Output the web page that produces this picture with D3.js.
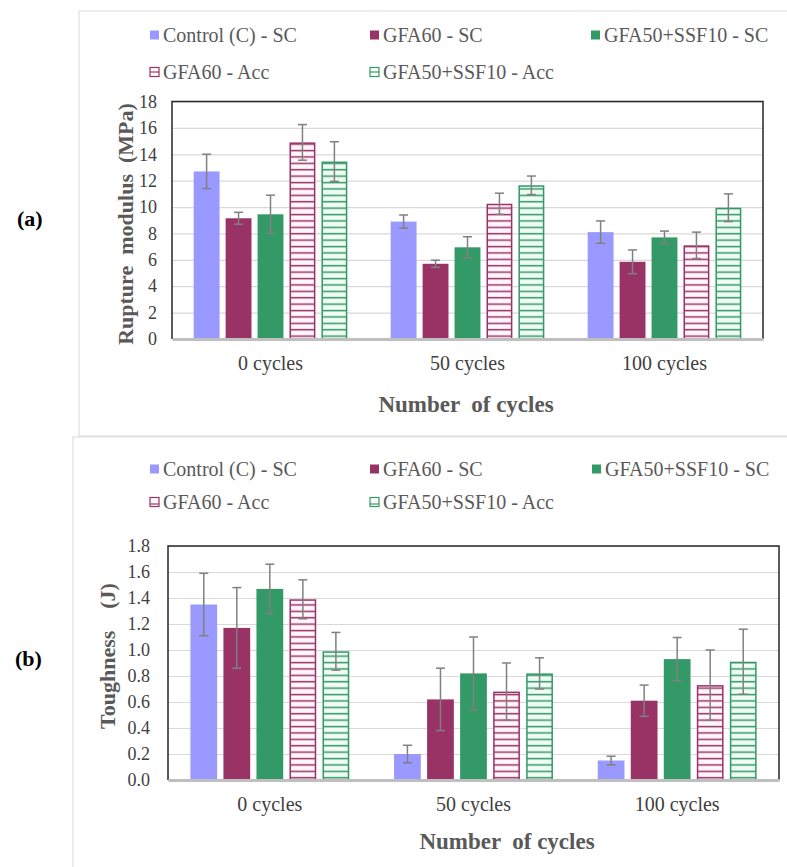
<!DOCTYPE html>
<html>
<head>
<meta charset="utf-8">
<script src="https://cdn.jsdelivr.net/npm/d3@7/dist/d3.min.js"></script>
<style>
  body { margin: 0; background: #fff; }
  svg { display: block; font-family: "Liberation Serif", "Times New Roman", serif; }
</style>
</head>
<body>
<div id="chart"></div>
<script>
'use strict';

const cycles = ['0 cycles', '50 cycles', '100 cycles'];
const seriesNames = ['Control (C) - SC', 'GFA60 - SC', 'GFA50+SSF10 - SC', 'GFA60 - Acc', 'GFA50+SSF10 - Acc'];

// rupture modulus (MPa), one row per cycle group
const ruptureMean = [
  [12.7, 9.15, 9.45, 14.9, 13.45],
  [8.9, 5.7, 6.95, 10.25, 11.65],
  [8.1, 5.85, 7.7, 7.1, 9.95]
];
const ruptureErr = [
  [1.3, 0.45, 1.45, 1.35, 1.5],
  [0.5, 0.27, 0.8, 0.8, 0.7],
  [0.85, 0.9, 0.48, 1.0, 1.05]
];
const ruptureTicks = [0, 2, 4, 6, 8, 10, 12, 14, 16, 18];

// toughness (J)
const toughMean = [
  [1.35, 1.17, 1.47, 1.39, 0.99],
  [0.2, 0.62, 0.82, 0.68, 0.82],
  [0.15, 0.61, 0.93, 0.73, 0.91]
];
const toughErr = [
  [0.24, 0.31, 0.19, 0.15, 0.145],
  [0.067, 0.24, 0.28, 0.22, 0.12],
  [0.033, 0.12, 0.166, 0.27, 0.25]
];
const toughTicks = [0, 0.2, 0.4, 0.6, 0.8, 1.0, 1.2, 1.4, 1.6, 1.8];

const W = 787, H = 867;
const BLUE = '#9999ff', MAROON = '#993366', GREEN = '#339966';
const seriesStyle = [
  {color: BLUE, hatch: false},
  {color: MAROON, hatch: false},
  {color: GREEN, hatch: false},
  {color: MAROON, hatch: true, tint: '#fff5fa'},
  {color: GREEN, hatch: true, tint: '#f0fbf4'}
];

const svg = d3.select('#chart').append('svg')
  .attr('width', W).attr('height', H);

const defs = svg.append('defs');
[3, 4].forEach(i => {
  const s = seriesStyle[i];
  const p = defs.append('pattern')
    .attr('id', 'hatch' + i)
    .attr('patternUnits', 'userSpaceOnUse')
    .attr('width', 8).attr('height', 6.4);
  p.append('rect').attr('width', 8).attr('height', 6.4).style('fill', s.tint);
  p.append('rect').attr('x', 0).attr('y', 2.6).attr('width', 8).attr('height', 1.5)
    .style('fill', s.color);
});

const fillOf = i => seriesStyle[i].hatch ? `url(#hatch${i})` : seriesStyle[i].color;

const drawPanel = function(cfg) {
  const g = svg.append('g');

  // outer frame
  g.append('rect')
    .attr('x', cfg.frame[0]).attr('y', cfg.frame[1])
    .attr('width', cfg.frame[2]).attr('height', cfg.frame[3])
    .style('fill', 'none').style('stroke', '#d9d9d9').style('stroke-width', 1);

  // panel letter
  g.append('text')
    .attr('x', cfg.letterX).attr('y', cfg.letterY)
    .attr('dy', '0.35em')
    .style('font-size', '22px').style('font-weight', 'bold').style('fill', '#000')
    .text(cfg.letter);

  // legend
  const leg = g.append('g');
  seriesNames.forEach((name, i) => {
    const col = i < 3 ? i : i - 3;
    const row = i < 3 ? 0 : 1;
    const lx = cfg.legendX[col], ly = cfg.legendY[row];
    const s = seriesStyle[i];
    if (s.hatch) {
      leg.append('rect').attr('x', lx).attr('y', ly - 4.5).attr('width', 9).attr('height', 9)
        .style('fill', '#fff').style('stroke', s.color).style('stroke-width', 1.2);
      leg.append('line').attr('x1', lx).attr('x2', lx + 9).attr('y1', ly + cfg.legLine).attr('y2', ly + cfg.legLine)
        .style('stroke', s.color).style('stroke-width', 1.2);
    } else {
      leg.append('rect').attr('x', lx).attr('y', ly - 4.5).attr('width', 9).attr('height', 9)
        .style('fill', s.color);
    }
    leg.append('text')
      .attr('x', lx + 13).attr('y', ly).attr('dy', '0.35em')
      .style('font-size', '20px').style('fill', '#595959')
      .text(name);
  });

  const [x0, x1] = cfg.xRange;
  const [yb, yt] = cfg.yRange;
  const x = d3.scaleBand().domain(cycles).range([x0, x1])
    .paddingInner(0.22).paddingOuter(0.11);
  const xs = d3.scaleBand().domain(d3.range(seriesNames.length))
    .range([0, x.bandwidth()]).paddingInner(0.19).paddingOuter(0);
  const y = d3.scaleLinear().domain(cfg.domain).range([yb, yt]);

  // gridlines + tick labels
  const yAxis = g.append('g')
    .attr('transform', `translate(${x0},0)`)
    .call(d3.axisLeft(y).tickValues(cfg.ticks).tickFormat(cfg.fmt)
      .tickSizeInner(-(x1 - x0)).tickSizeOuter(0).tickPadding(cfg.tickPad));
  yAxis.select('.domain').remove();
  yAxis.selectAll('.tick line').style('stroke', '#d9d9d9').style('stroke-width', 1.2);
  yAxis.selectAll('.tick text')
    .style('font-family', '"Liberation Serif", serif')
    .style('font-size', '18px').style('fill', '#404040');

  // bars
  cycles.forEach((c, gi) => {
    const grp = g.append('g').attr('transform', `translate(${x(c)},0)`);
    cfg.mean[gi].forEach((v, si) => {
      const s = seriesStyle[si];
      const bx = xs(si), bw = xs.bandwidth();
      grp.append('rect')
        .attr('x', s.hatch ? bx + 0.75 : bx).attr('y', y(v) + (s.hatch ? 0.75 : 0))
        .attr('width', s.hatch ? bw - 1.5 : bw)
        .attr('height', yb - y(v) - (s.hatch ? 0.75 : 0))
        .style('fill', fillOf(si))
        .style('stroke', s.hatch ? s.color : 'none')
        .style('stroke-width', 1.5);
    });
    // error bars
    cfg.mean[gi].forEach((v, si) => {
      const e = cfg.err[gi][si];
      const cx = xs(si) + xs.bandwidth() / 2;
      const eb = grp.append('g').style('stroke', '#808080').style('stroke-width', 1.5);
      eb.append('line').attr('x1', cx).attr('x2', cx).attr('y1', y(v + e)).attr('y2', y(v - e));
      eb.append('line').attr('x1', cx - 4.5).attr('x2', cx + 4.5).attr('y1', y(v + e)).attr('y2', y(v + e));
      eb.append('line').attr('x1', cx - 4.5).attr('x2', cx + 4.5).attr('y1', y(v - e)).attr('y2', y(v - e));
    });
  });

  // plot border (top, left, right) and category axis
  g.append('path')
    .attr('d', `M${x0},${yb} L${x0},${yt} L${x1},${yt} L${x1},${yb}`)
    .style('fill', 'none').style('stroke', '#262626').style('stroke-width', 1.5);
  const xAxis = g.append('g')
    .attr('transform', `translate(0,${yb})`)
    .call(d3.axisBottom(x).tickSize(0).tickPadding(cfg.xPad));
  xAxis.select('.domain').style('stroke', '#bfbfbf').style('stroke-width', 3);
  xAxis.selectAll('.tick text')
    .style('font-family', '"Liberation Serif", serif')
    .style('font-size', '20px').style('fill', '#404040');

  // axis titles
  g.append('text')
    .attr('transform', `translate(${cfg.yTitleX},${cfg.yTitleY}) rotate(-90)`)
    .attr('text-anchor', 'middle').attr('dy', '0.35em')
    .style('white-space', 'pre')
    .style('font-size', '22px').style('font-weight', 'bold').style('fill', '#595959')
    .text(cfg.yTitle);
  g.append('text')
    .attr('x', cfg.xTitleX).attr('y', cfg.xTitleY)
    .attr('text-anchor', 'middle').attr('dy', '0.35em')
    .style('white-space', 'pre')
    .style('font-size', '23px').style('font-weight', 'bold').style('fill', '#595959')
    .text('Number  of cycles');
};

drawPanel({
  frame: [79, 11, 720, 425],
  letter: '(a)', letterX: 17, letterY: 218,
  legendX: [150, 370, 591], legendY: [35, 72], legLine: 0,
  xRange: [172, 763], yRange: [339, 101.5],
  domain: [0, 18], ticks: ruptureTicks, fmt: d3.format('d'), tickPad: 15, xPad: 17,
  mean: ruptureMean, err: ruptureErr,
  yTitle: 'Rupture  modulus  (MPa)', yTitleX: 125, yTitleY: 224,
  xTitleX: 466, xTitleY: 404
});

drawPanel({
  frame: [73, 437, 720, 440],
  letter: '(b)', letterX: 15, letterY: 658,
  legendX: [150, 370, 592], legendY: [469, 502], legLine: 2,
  xRange: [168, 779], yRange: [780, 546],
  domain: [0, 1.8], ticks: toughTicks, fmt: d3.format('.1f'), tickPad: 18, xPad: 17,
  mean: toughMean, err: toughErr,
  yTitle: 'Toughness    (J)', yTitleX: 107, yTitleY: 656,
  xTitleX: 507, xTitleY: 841
});
</script>
</body>
</html>
